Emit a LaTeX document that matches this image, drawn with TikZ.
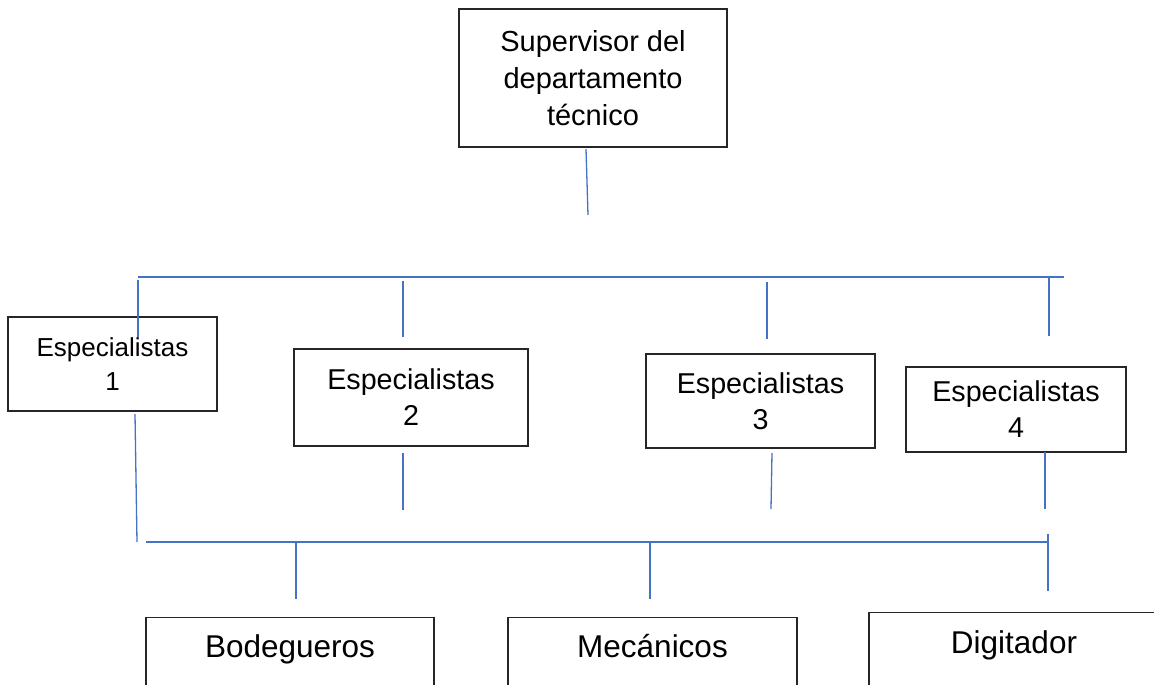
\documentclass[tikz,border=0pt]{standalone}
\usepackage{fontspec}
\setmainfont{Liberation Sans}
\definecolor{linkblue}{HTML}{4472C4}
\definecolor{boxline}{HTML}{262626}
\tikzset{
  box/.style={draw=boxline, line width=1.2pt, fill=white, rectangle, inner sep=0pt, align=center},
  conn/.style={draw=linkblue, line width=1.3pt},
  topfont/.style={font=\fontsize{29}{37}\selectfont},
  midfont/.style={font=\fontsize{28.7}{36}\selectfont},
  smallfont/.style={font=\fontsize{26}{34}\selectfont},
  lowfont/.style={font=\fontsize{31.5}{38}\selectfont},
  lowbox/.style={box, anchor=north, text depth=100pt},
}
\begin{document}
\begin{tikzpicture}[x=1pt, y=-1pt]
\useasboundingbox (0,0) rectangle (1154,685);
\clip (0,0) rectangle (1154,685);

% boxes
\node[box, topfont, minimum width=268pt, minimum height=138pt] (sup) at (593,78) {Supervisor del\\departamento\\técnico};
\node[box, smallfont, minimum width=209pt, minimum height=94pt] (e1) at (112.5,364) {Especialistas\\1};
\node[box, midfont, minimum width=234pt, minimum height=97pt] (e2) at (411,397.5) {Especialistas\\2};
\node[box, midfont, minimum width=229pt, minimum height=94pt] (e3) at (760.5,401) {Especialistas\\3};
\node[box, midfont, minimum width=220pt, minimum height=85pt] (e4) at (1016,409.5) {Especialistas\\4};

\node[lowbox, lowfont, minimum width=288pt, text height=40pt] (bod) at (290,617) {Bodegueros};
\node[lowbox, lowfont, minimum width=289pt, text height=40pt] (mec) at (652.5,617) {Mecánicos};
\node[lowbox, lowfont, minimum width=290pt, text height=41pt] (dig) at (1014,612) {Digitador};

% connector end points
\coordinate (s1) at (586,149);
\coordinate (s2) at (588,215);
\coordinate (busL) at (138,277);
\coordinate (busR) at (1064,277);
\coordinate (v1a) at (138,280);  \coordinate (v1b) at (138,337);
\coordinate (v2a) at (403,281);  \coordinate (v2b) at (403,337);
\coordinate (v3a) at (767,282);  \coordinate (v3b) at (767,339);
\coordinate (v4a) at (1049,277); \coordinate (v4b) at (1049,336);
\coordinate (d1a) at (135,414);  \coordinate (d1b) at (137,542);
\coordinate (d2a) at (403,453);  \coordinate (d2b) at (403,510);
\coordinate (d3a) at (772,453);  \coordinate (d3b) at (771,509);
\coordinate (d4a) at (1045,452); \coordinate (d4b) at (1045,509);
\coordinate (lbL) at (146,542);  \coordinate (lbR) at (1048,542);
\coordinate (tka) at (1048,534); \coordinate (tkb) at (1048,591);
\coordinate (ba) at (296,542);   \coordinate (bb) at (296,599);
\coordinate (ma) at (650,542);   \coordinate (mb) at (650,599);

% connectors
\draw[conn] (s1) -- (s2);
\draw[conn] (busL) -- (busR);
\draw[conn] (v1a) -- (v1b);
\draw[conn] (v2a) -- (v2b);
\draw[conn] (v3a) -- (v3b);
\draw[conn] (v4a) -- (v4b);
\draw[conn] (d1a) -- (d1b);
\draw[conn] (d2a) -- (d2b);
\draw[conn] (d3a) -- (d3b);
\draw[conn] (d4a) -- (d4b);
\draw[conn] (lbL) -- (lbR);
\draw[conn] (tka) -- (tkb);
\draw[conn] (ba) -- (bb);
\draw[conn] (ma) -- (mb);
\end{tikzpicture}
\end{document}
